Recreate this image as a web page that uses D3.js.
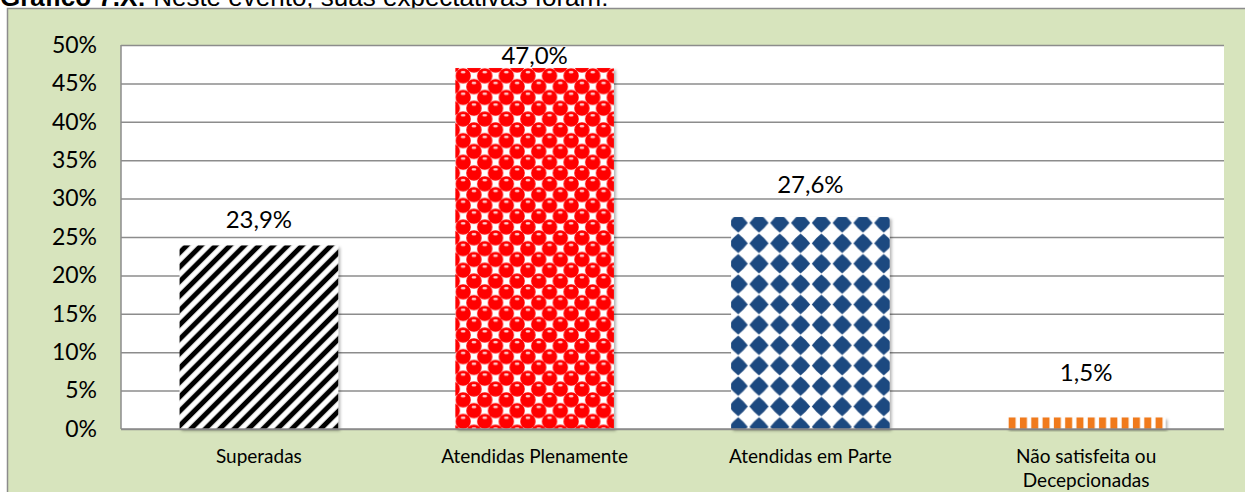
<!DOCTYPE html>
<html>
<head>
<meta charset="utf-8">
<script src="https://cdn.jsdelivr.net/npm/d3@7"></script>
<style>
  body { margin: 0; background: #ffffff; overflow: hidden; }
  svg { display: block; }
</style>
</head>
<body>
<svg id="chart"></svg>
<script>
// data
var categories = ["Superadas", "Atendidas Plenamente", "Atendidas em Parte", "Não satisfeita ou\nDecepcionadas"];
var values = [23.9, 47.0, 27.6, 1.5];
var valueLabels = ["23,9%", "47,0%", "27,6%", "1,5%"];
var yTicks = [0, 5, 10, 15, 20, 25, 30, 35, 40, 45, 50];

// gap between bar top and label baseline (labels were moved by hand in the original)
var labelGap = [17, 4, 24, 36];

var screen = { width: 1245, height: 492 };
var plot = { left: 121, right: 1224, top: 45, bottom: 429 };

var svg = d3.select("#chart")
            .attr("width", screen.width)
            .attr("height", screen.height);

var defs = svg.append("defs");

var xScale = d3.scaleBand()
               .domain(categories)
               .range([plot.left, plot.right])
               .paddingInner(0.425)
               .paddingOuter(0.2125);

var yScale = d3.scaleLinear()
               .domain([0, 50])
               .range([plot.bottom, plot.top]);

// title (top part is cut off in the original)
var title = svg.append("text")
   .attr("x", 0)
   .attr("y", 6)
   .style("font-family", "'Liberation Sans', Arial, sans-serif")
   .style("font-size", "26px")
   .attr("fill", "#000");
title.append("tspan").style("font-weight", "bold").text("Gráfico 7.X:");
title.append("tspan").text(" Neste evento, suas expectativas foram:");

// outer panel
svg.append("rect")
   .attr("x", 7.5)
   .attr("y", 8.5)
   .attr("width", 1400)
   .attr("height", 600)
   .attr("fill", "#d7e4bd")
   .attr("stroke", "#8c8c8c")
   .attr("stroke-width", 1.5);

// plot area
svg.append("rect")
   .attr("x", plot.left)
   .attr("y", plot.top)
   .attr("width", plot.right - plot.left)
   .attr("height", plot.bottom - plot.top)
   .attr("fill", "#ffffff");

// gridlines
var grid = svg.append("g")
   .classed("grid", true)
   .attr("transform", "translate(" + plot.left + ",0)")
   .call(d3.axisLeft(yScale).tickValues(yTicks).tickSize(-(plot.right - plot.left)).tickFormat(""));
grid.select(".domain").remove();
grid.selectAll("line").attr("stroke", "#8c8c8c").attr("stroke-width", 1.5);

svg.append("line")
   .attr("x1", plot.left).attr("x2", plot.left)
   .attr("y1", plot.top).attr("y2", plot.bottom)
   .attr("stroke", "#8c8c8c").attr("stroke-width", 1.5);

// y axis labels
var yAxis = svg.append("g")
   .classed("yAxis", true)
   .attr("transform", "translate(" + (plot.left - 24) + ",0)")
   .call(d3.axisLeft(yScale).tickValues(yTicks).tickSize(0).tickPadding(0)
          .tickFormat(function(d) { return d + "%"; }));
yAxis.select(".domain").remove();
yAxis.selectAll("text")
     .style("font-family", "Lato, sans-serif")
     .style("font-size", "23px")
     .attr("fill", "#000");

// fill patterns, one per bar so the tiles start at the bar corner
var shadow = defs.append("filter").attr("id", "shadow")
   .attr("x", "-10%").attr("y", "-10%").attr("width", "130%").attr("height", "130%");
shadow.append("feDropShadow")
   .attr("dx", 2).attr("dy", 2).attr("stdDeviation", 1.5)
   .attr("flood-color", "#000").attr("flood-opacity", 0.3);

var makeStripes = function(id, bx, by) {
  var p = defs.append("pattern").attr("id", id)
     .attr("patternUnits", "userSpaceOnUse")
     .attr("width", 10.2).attr("height", 10.2)
     .attr("x", bx).attr("y", by)
     .attr("patternTransform", "rotate(45 " + bx + " " + by + ")");
  p.append("rect").attr("width", 10.2).attr("height", 10.2).attr("fill", "#fff");
  p.append("rect").attr("x", 2.6).attr("width", 5).attr("height", 10.2).attr("fill", "#000");
};

var makeDots = function(id, bx, by) {
  var c = 10.8;
  var p = defs.append("pattern").attr("id", id)
     .attr("patternUnits", "userSpaceOnUse")
     .attr("width", 2 * c).attr("height", 2 * c)
     .attr("x", bx - 3).attr("y", by - 3);
  p.append("rect").attr("width", 2 * c).attr("height", 2 * c).attr("fill", "#fff");
  var centers = [[0, 0], [2 * c, 0], [0, 2 * c], [2 * c, 2 * c], [c, c]];
  centers.forEach(function(d) {
    p.append("circle").attr("cx", d[0]).attr("cy", d[1]).attr("r", 7.7).attr("fill", "#ff0000");
  });
  centers.forEach(function(d) {
    p.append("ellipse").attr("cx", d[0]).attr("cy", d[1] - 3.6)
     .attr("rx", 2.4).attr("ry", 1.2).attr("fill", "#ffd0d0");
  });
};

var makeDiamonds = function(id, bx, by) {
  var w = 20.8, h = 20.4, r = 9.6, k = 5.4;
  var p = defs.append("pattern").attr("id", id)
     .attr("patternUnits", "userSpaceOnUse")
     .attr("width", w).attr("height", h)
     .attr("x", bx - 3.3).attr("y", by - 4.3);
  p.append("rect").attr("width", w).attr("height", h).attr("fill", "#fff");
  var cx = w / 2, cy = h / 2;
  p.append("path")
   .attr("d", "M" + cx + "," + (cy - r) +
              " Q" + (cx + k) + "," + (cy - k) + " " + (cx + r) + "," + cy +
              " Q" + (cx + k) + "," + (cy + k) + " " + cx + "," + (cy + r) +
              " Q" + (cx - k) + "," + (cy + k) + " " + (cx - r) + "," + cy +
              " Q" + (cx - k) + "," + (cy - k) + " " + cx + "," + (cy - r) + "Z")
   .attr("fill", "#1f4a80");
};

var makeBars = function(id, bx, by) {
  var p = defs.append("pattern").attr("id", id)
     .attr("patternUnits", "userSpaceOnUse")
     .attr("width", 11.3).attr("height", 20)
     .attr("x", bx).attr("y", by);
  p.append("rect").attr("width", 11.3).attr("height", 20).attr("fill", "#fff");
  p.append("rect").attr("x", 1.8).attr("width", 7).attr("height", 20).attr("fill", "#f07a1c");
};

var makers = [makeStripes, makeDots, makeDiamonds, makeBars];

categories.forEach(function(d, i) {
  makers[i]("fill" + i, xScale(d), yScale(values[i]));
});

svg.append("g")
   .classed("bars", true)
   .selectAll("rect")
   .data(values)
   .enter()
   .append("rect")
   .attr("x", function(d, i) { return xScale(categories[i]); })
   .attr("y", function(d) { return yScale(d); })
   .attr("width", xScale.bandwidth())
   .attr("height", function(d) { return yScale(0) - yScale(d); })
   .attr("fill", function(d, i) { return "url(#fill" + i + ")"; })
   .attr("filter", "url(#shadow)");

// baseline on top of the bars
svg.append("line")
   .attr("x1", plot.left).attr("x2", plot.right)
   .attr("y1", plot.bottom).attr("y2", plot.bottom)
   .attr("stroke", "#8c8c8c").attr("stroke-width", 1.5);

// value labels
svg.append("g")
   .classed("textAbove", true)
   .selectAll("text")
   .data(values)
   .enter()
   .append("text")
   .attr("x", function(d, i) { return xScale(categories[i]) + xScale.bandwidth() / 2; })
   .attr("y", function(d, i) { return yScale(d) - labelGap[i]; })
   .attr("text-anchor", "middle")
   .style("font-family", "Lato, sans-serif")
   .style("font-size", "24px")
   .attr("fill", "#000")
   .text(function(d, i) { return valueLabels[i]; });

// category labels
var xAxis = svg.append("g")
   .classed("xAxis", true)
   .attr("transform", "translate(0," + plot.bottom + ")")
   .call(d3.axisBottom(xScale).tickSize(0).tickFormat(""));
xAxis.select(".domain").remove();
xAxis.selectAll(".tick text").remove();
xAxis.selectAll(".tick")
     .append("text")
     .attr("text-anchor", "middle")
     .style("font-family", "Lato, sans-serif")
     .style("font-size", "19px")
     .attr("fill", "#000")
     .each(function(d) {
       var lines = d.split("\n");
       var t = d3.select(this);
       lines.forEach(function(line, j) {
         t.append("tspan").attr("x", 0).attr("y", 34 + j * 24).text(line);
       });
     });
</script>
</body>
</html>
